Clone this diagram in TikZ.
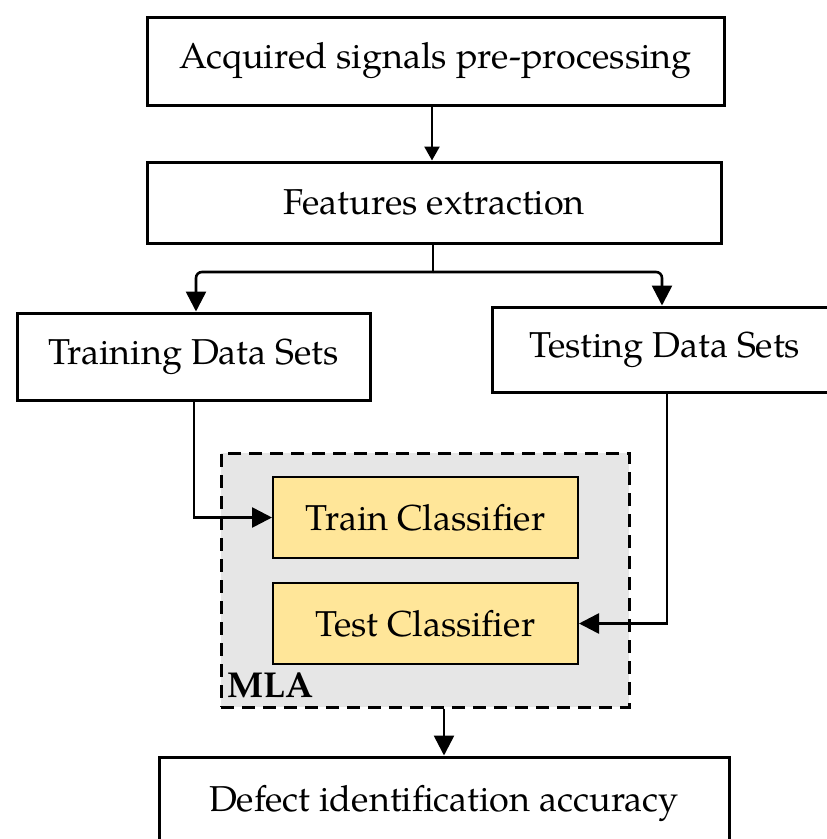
\documentclass[tikz,border=0pt]{standalone}
\usepackage{fontspec}
\setmainfont{TeX Gyre Pagella}
\usetikzlibrary{arrows.meta}
\definecolor{clsfill}{HTML}{FFE699}
\definecolor{mlafill}{HTML}{E6E6E6}
\begin{document}
\begin{tikzpicture}[x=1pt,y=-1pt,
  txt/.style={font=\fontsize{36}{43}\selectfont},
  box/.style={txt, draw, line width=3pt, fill=white, inner sep=0pt},
  clsbox/.style={txt, draw, line width=2pt, fill=clsfill, inner sep=0pt,
    minimum width=305pt, minimum height=81pt},
  mlabox/.style={draw, dashed, dash pattern=on 13pt off 8pt, line width=3pt, fill=mlafill, inner sep=0pt},
  link/.style={line width=2.6pt},
  arr/.style={link, -{Triangle[length=20pt,width=20pt]}},
  smallarr/.style={link, -{Triangle[length=14pt,width=15pt]}}]
\clip (0,0) rectangle (827,839);
\fill[white] (0,0) rectangle (827,839);

\node[box, minimum width=577pt, minimum height=88pt] (acq) at (435.5,61) {Acquired signals pre-processing};
\node[box, minimum width=574pt, minimum height=81pt] (feat) at (434,202.5) {Features extraction};
\node[box, minimum width=353pt, minimum height=87pt] (trainds) at (193.5,356.5) {Training Data Sets};
\node[box, minimum width=346pt, minimum height=85pt] (testds) at (665,349.5) {Testing Data Sets};

\node[mlabox, minimum width=408pt, minimum height=254pt] (mla) at (425,580) {};
\node[clsbox] (traincl) at (425.5,517.5) {Train Classifier};
\node[clsbox] (testcl) at (425.5,623.5) {Test Classifier};
\node[anchor=base west, inner sep=0pt, font=\fontsize{36}{43}\selectfont\bfseries] (mlalabel) at (227,697) {MLA};

\node[box, minimum width=570pt, minimum height=92pt] (acc) at (444,803) {Defect identification accuracy};

\coordinate (split) at (433,272);
\draw[smallarr] (acq.south -| 432,0) -- (feat.north -| 432,0);
\draw[link] (feat.south -| split) -- (split);
\draw[arr, rounded corners=6pt] (split) -| (trainds.north -| 196,0);
\draw[arr, rounded corners=6pt] (split) -| (testds.north -| 662,0);
\draw[arr] (trainds.south -| 194,0) |- (traincl.west);
\draw[arr] (testds.south -| 667,0) |- (testcl.east);
\draw[arr] (mla.south -| acc.north) -- (acc.north);
\end{tikzpicture}
\end{document}
